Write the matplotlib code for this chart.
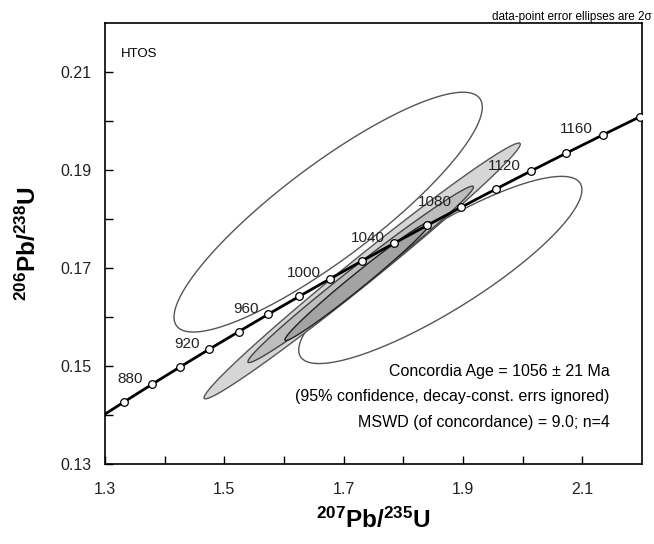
import numpy as np
import matplotlib
matplotlib.use('Agg')
import matplotlib.pyplot as plt

plt.rcParams['font.family'] = ['Liberation Sans', 'DejaVu Sans']
plt.rcParams['mathtext.fontset'] = 'custom'
plt.rcParams['mathtext.rm'] = 'Liberation Sans'
plt.rcParams['mathtext.bf'] = 'Liberation Sans:bold'

# concordia curve (ages in Ma and the matching ratios)
conc_age = [840, 860, 880, 900, 920, 940, 960, 980, 1000, 1020, 1040, 1060,
            1080, 1100, 1120, 1140, 1160, 1180, 1200]
conc_x = [1.2871, 1.3326, 1.3790, 1.4263, 1.4746, 1.5238, 1.5740, 1.6252,
          1.6774, 1.7307, 1.7850, 1.8404, 1.8969, 1.9545, 2.0133, 2.0732,
          2.1344, 2.1967, 2.2604]
conc_y = [0.13918, 0.14272, 0.14628, 0.14984, 0.15341, 0.15699, 0.16059,
          0.16419, 0.16781, 0.17144, 0.17508, 0.17873, 0.18240, 0.18607,
          0.18976, 0.19345, 0.19716, 0.20088, 0.20461]
label_ages = [880, 920, 960, 1000, 1040, 1080, 1120, 1160]

# error ellipses: centre, 2-sigma half widths, correlation
ell_x = [1.674, 1.862, 1.731, 1.7285, 1.7235]
ell_y = [0.1814, 0.1696, 0.1694, 0.1687, 0.1673]
ell_sx = [0.2583, 0.2373, 0.265, 0.189, 0.122]
ell_sy = [0.02447, 0.0191, 0.0261, 0.0180, 0.0121]
ell_rho = [0.875, 0.856, 0.991, 0.990, 0.987]
ell_fill = ['white', 'white', '#d6d6d6', '#bdbdbd', '#a3a3a3']
ell_edge = ['#555555', '#555555', '#555555', '#444444', '#222222']

fig = plt.figure(figsize=(6.54, 5.44), dpi=100)
ax = fig.add_axes([105/654, 80/544, 537/654, 441/544])

t = np.linspace(0, 2*np.pi, 300)
for i in range(len(ell_x)):
    ex = ell_x[i] + ell_sx[i]*np.cos(t)
    ey = ell_y[i] + ell_sy[i]*(ell_rho[i]*np.cos(t) + np.sqrt(1 - ell_rho[i]**2)*np.sin(t))
    ax.fill(ex, ey, facecolor=ell_fill[i], edgecolor=ell_edge[i], lw=1.0, zorder=1 + i*0.1)

ax.plot(conc_x, conc_y, 'k-', lw=2, zorder=3)
ax.plot(conc_x[1:-1], conc_y[1:-1], 'o', mfc='w', mec='k', ms=5.5, mew=0.9, zorder=4)

for a in label_ages:
    i = conc_age.index(a)
    ax.annotate(str(a), (conc_x[i], conc_y[i]), xytext=(-7, 4), textcoords='offset points',
                ha='right', va='center', fontsize=11, color='#222222', zorder=5)

ax.set_xlim(1.3, 2.2)
ax.set_ylim(0.13, 0.22)
ax.set_xticks([1.3, 1.5, 1.7, 1.9, 2.1])
ax.set_xticks([1.4, 1.6, 1.8, 2.0], minor=True)
ax.set_yticks([0.13, 0.15, 0.17, 0.19, 0.21])
ax.set_yticks([0.14, 0.16, 0.18, 0.20], minor=True)
ax.set_xticklabels(['1.3', '1.5', '1.7', '1.9', '2.1'])
ax.set_yticklabels(['0.13', '0.15', '0.17', '0.19', '0.21'])
ax.tick_params(which='both', direction='in', length=6, width=1, top=False, right=False,
               labelsize=11.5, labelcolor='#222222')
ax.tick_params(axis='x', pad=13)
ax.tick_params(axis='y', pad=10)
for s in ax.spines.values():
    s.set_linewidth(1.2)

ax.text(0.03, 0.93, 'HTOS', transform=ax.transAxes, fontsize=9.5, ha='left', va='center')
ax.text(0.94, 0.209, 'Concordia Age = 1056 \u00b1 21 Ma', transform=ax.transAxes,
        fontsize=11.5, ha='right', va='center')
ax.text(0.94, 0.152, '(95% confidence, decay-const. errs ignored)', transform=ax.transAxes,
        fontsize=11.5, ha='right', va='center')
ax.text(0.94, 0.094, 'MSWD (of concordance) = 9.0; n=4', transform=ax.transAxes,
        fontsize=11.5, ha='right', va='center')

fig.text(652/654, 1 - 20/544, 'data-point error ellipses are 2\u03c3', ha='right', va='baseline',
         fontsize=8.5, family=['Liberation Sans Narrow', 'Liberation Sans', 'DejaVu Sans'])

fig.text(373/654, 1 - 520/544, r'$\mathbf{{}^{207}Pb/{}^{235}U}$', ha='center', va='center',
         fontsize=17.5)
fig.text(28/654, 1 - 244/544, r'$\mathbf{{}^{206}Pb/{}^{238}U}$', ha='center', va='center',
         fontsize=17.5, rotation=90)

fig.savefig('out.png', dpi=100)
